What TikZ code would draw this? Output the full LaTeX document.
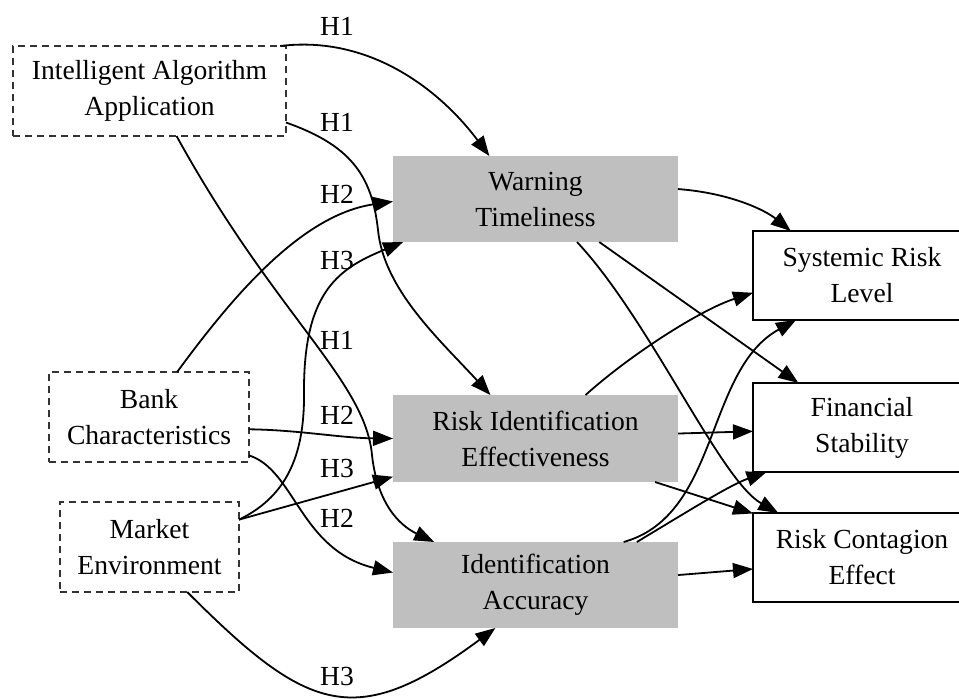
\documentclass[tikz,border=0pt]{standalone}
\usepackage{fontspec}
\setmainfont{Liberation Serif}
\usepackage{tikz}
\usetikzlibrary{arrows.meta}
\definecolor{BoxGray}{gray}{0.75}
\definecolor{DashGray}{gray}{0.2}

\begin{document}
\begin{tikzpicture}[x=0.5pt, y=-0.5pt,
		every node/.style={font=\fontsize{13.8}{18}\selectfont, align=center, inner sep=0pt, outer sep=0pt},
		factor/.style={draw=DashGray, dash pattern=on 3.5pt off 2.5pt, line width=0.8pt, minimum height=45pt},
		mediator/.style={fill=BoxGray, minimum width=142.5pt, minimum height=43pt},
		outcome/.style={draw, line width=0.9pt, minimum width=109pt, minimum height=44.5pt},
		link/.style={line width=0.9pt, -{Triangle[length=10pt,width=7.5pt]}}]
				\useasboundingbox (0,0) rectangle (959,698);

				% antecedents
				\node[factor, minimum width=136.5pt] (iaa) at (149.5,91) {Intelligent Algorithm\\Application};
				\node[factor, minimum width=100pt] (bank) at (149,417) {Bank\\Characteristics};
				\node[factor, minimum width=89.5pt] (market) at (149.5,547) {Market\\Environment};

				% mediators
				\node[mediator] (warn) at (535.5,199) {Warning\\Timeliness};
				\node[mediator, minimum height=43.5pt] (riskid) at (535.5,438.5) {Risk Identification\\Effectiveness};
				\node[mediator] (acc) at (535.5,585) {Identification\\Accuracy};

				% outcomes
				\node[outcome] (sys) at (862,275.5) {Systemic Risk\\Level};
				\node[outcome] (fin) at (862,427.5) {Financial\\Stability};
				\node[outcome] (cont) at (862,557.5) {Risk Contagion\\Effect};

				% H1
				\draw[link] (iaa.19) .. controls (370,35) and (440,90) .. (warn.137);
				\draw[link] (iaa.-13) .. controls (350,145) and (372,175) .. (378,230) .. controls (384,290) and (440,340) .. (riskid.136);
				\draw[link] (iaa.-59) .. controls (275,315) and (365,380) .. (372,455) .. controls (378,510) and (405,528) .. (acc.157);

				% H2
				\draw[link] (bank.58) .. controls (230,300) and (300,215) .. (warn.181);
				\draw[link] (bank.-7) .. controls (300,430) and (340,438) .. (riskid.180);
				\draw[link] (bank.-21) .. controls (295,470) and (300,550) .. (acc.175);

				% H3
				\draw[link] (market.17) .. controls (290,495) and (305,450) .. (304,390) .. controls (304,290) and (340,268) .. (warn.198);
				\draw[link] (market.17) -- (riskid.195);
				\draw[link] (market.-50) .. controls (307,712) and (355,732) .. (acc.227);

				% mediators to outcomes
				\draw[link] (warn.4) .. controls (730,193) and (765,210) .. (sys.148);
				\draw[link] (warn.-34) -- (fin.145);
				\draw[link] (warn.-46) .. controls (650,320) and (720,480) .. (cont.152);
				\draw[link] (riskid.41) .. controls (630,355) and (700,310) .. (sys.189);
				\draw[link] (riskid.2) -- (fin.182);
				\draw[link] (riskid.-20) -- (cont.158);
				\draw[link] (acc.26) .. controls (720,515) and (705,370) .. (sys.214);
				\draw[link] (acc.23) .. controls (690,510) and (730,485) .. (fin.205);
				\draw[link] (acc.4) -- (cont.186);

				% hypothesis labels
				\node (h1a) at (337,26) {H1};
				\node (h1b) at (337,122.5) {H1};
				\node (h2a) at (337,194.5) {H2};
				\node (h3a) at (337,260) {H3};
				\node (h1c) at (337,340) {H1};
				\node (h2b) at (337,415) {H2};
				\node (h3b) at (337,468) {H3};
				\node (h2c) at (337,518) {H2};
				\node (h3c) at (337,676) {H3};
\end{tikzpicture}
\end{document}
